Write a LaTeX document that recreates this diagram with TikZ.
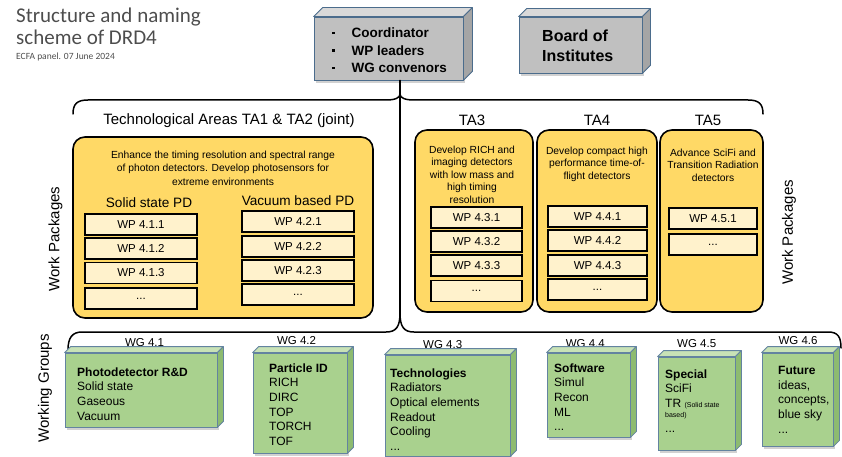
\documentclass[tikz,border=0pt]{standalone}
\usepackage{fontspec}
\setmainfont{Liberation Sans}
\newfontfamily\calib{Carlito}
\usetikzlibrary{calc,shadows}
\definecolor{ybox}{HTML}{FFD966}
\definecolor{wpfill}{HTML}{FFF2CC}
\definecolor{gfront}{HTML}{A9D18E}
\definecolor{gtop}{HTML}{C8E2B6}
\definecolor{gside}{HTML}{8DBB70}
\definecolor{gborder}{HTML}{6383A0}
\definecolor{sfront}{HTML}{C0C0C0}
\definecolor{stop}{HTML}{D9D9D9}
\definecolor{sside}{HTML}{A5A5A5}
\definecolor{sborder}{HTML}{4B6C8C}
\definecolor{titlegray}{HTML}{4D4D4D}
\newcommand\fs[2]{\fontsize{#1}{#2}\selectfont}
\newcommand\boxthree[5]{%
  \filldraw[fill=#3,draw=#5,line width=0.8pt,line join=round] (#1.north west) -- ++(#2,-#2) -- ($(#1.north east)+(#2,-#2)$) -- (#1.north east) -- cycle;
  \filldraw[fill=#4,draw=#5,line width=0.8pt,line join=round] (#1.north east) -- ++(#2,-#2) -- ($(#1.south east)+(#2,-#2)$) -- (#1.south east) -- cycle;
}
\begin{document}
\begin{tikzpicture}[x=1pt,y=-1pt,
  tabox/.style={draw=black, line width=1.6pt, fill=ybox, rounded corners=12pt, inner sep=0pt},
  wpbox/.style={draw=black, line width=1.6pt, fill=wpfill, minimum height=21pt, inner sep=0pt, font=\fs{11.5}{14}},
  gbox/.style={draw=gborder, line width=0.8pt, fill=gfront, inner sep=0pt, drop shadow={shadow xshift=2pt, shadow yshift=-3pt, opacity=0.18, fill=black}},
  sbox/.style={draw=sborder, line width=0.8pt, fill=sfront, inner sep=0pt, drop shadow={shadow xshift=2pt, shadow yshift=-3pt, opacity=0.18, fill=black}},
  wgtext/.style={anchor=north west, align=left, inner sep=0pt, font=\fs{12}{14.6}},
  wglabel/.style={font=\fs{11.5}{14}, inner sep=0pt},
  brace/.style={line width=1.5pt, line cap=round, line join=round},
  desc/.style={align=center, inner sep=0pt, font=\fs{10.3}{12.5}},
  tatitle/.style={font=\fs{15}{18}, inner sep=0pt},
  vlabel/.style={rotate=90, font=\fs{15}{18}, inner sep=0pt},
  ttl/.style={anchor=base west, inner sep=0pt, text=titlegray}
]
\useasboundingbox (0,0) rectangle (842,457);

% title
\node[ttl, font=\calib\fs{21}{25}] (t1) at (16,23) {Structure and naming};
\node[ttl, font=\calib\fs{21}{25}] (t2) at (16,45) {scheme of DRD4};
\node[ttl, font=\calib\fs{9.5}{11}] (t3) at (16,59.5) {ECFA panel. 07 June 2024};

% top gray boxes
\node[sbox, minimum width=149pt, minimum height=63pt] (coord) at (388.5,48.5) {};
\boxthree{coord}{9}{stop}{sside}{sborder}
\node[anchor=west, inner sep=0pt, font=\fs{13.5}{17.5}\bfseries] (coordtxt) at (332,51.7)
  {\begin{tabular}{@{}l@{\hspace{17pt}}l@{}}\rule[3.5pt]{2.5pt}{2.5pt} & Coordinator\\ \rule[3.5pt]{2.5pt}{2.5pt} & WP leaders\\ \rule[3.5pt]{2.5pt}{2.5pt} & WG convenors\end{tabular}};
\node[sbox, minimum width=123pt, minimum height=56pt] (board) at (580.5,45) {};
\boxthree{board}{8}{stop}{sside}{sborder}
\node[anchor=west, align=left, inner sep=0pt, font=\fs{16}{20}\bfseries] (boardtxt) at (542,45.8) {Board of\\Institutes};

% braces
\coordinate (tipT) at (400,94);
\coordinate (tipB) at (400,313);
\draw[brace] (73,114) .. controls (73,104) and (77,100) .. (88,100) -- (386,100) .. controls (395,100) and (400,98) .. (tipT) .. controls (400,98) and (405,100) .. (414,100) -- (748,100) .. controls (759,100) and (763,104) .. (763,114);
\draw[brace] (coord.south -| tipT) -- (tipB);
\draw[brace] (68,350) .. controls (68,338) and (72,332) .. (82,332) -- (386,332) .. controls (396,332) and (400,327) .. (tipB) .. controls (400,327) and (404,332) .. (414,332) -- (828,332) .. controls (838,332) and (841,337) .. (841,348);

% TA titles
\node[tatitle] (ta12t) at (229,121) {Technological Areas TA1 \& TA2 (joint)};
\node[tatitle] (ta3t) at (472,120) {TA3};
\node[tatitle] (ta4t) at (597,120) {TA4};
\node[tatitle] (ta5t) at (708,120) {TA5};

% TA boxes
\node[tabox, minimum width=300pt, minimum height=181pt] (ta12) at (223,227.5) {};
\node[tabox, minimum width=118pt, minimum height=182pt] (ta3) at (474,221) {};
\node[tabox, minimum width=120pt, minimum height=182pt] (ta4) at (597,221) {};
\node[tabox, minimum width=103pt, minimum height=182pt] (ta5) at (711.5,221) {};

% descriptions
\node[desc, font=\fs{10.3}{13.4}] (d12) at (223,168) {Enhance the timing resolution and spectral range\\of photon detectors. Develop photosensors for\\extreme environments};
\node[desc] (d3) at (472,174.5) {Develop RICH and\\imaging detectors\\with low mass and\\high timing\\resolution};
\node[desc] (d4) at (597,164) {Develop compact high\\performance time-of-\\flight detectors};
\node[desc] (d5) at (713,165) {Advance SciFi and\\Transition Radiation\\detectors};
\node[inner sep=0pt, font=\fs{13.6}{16}] (solid) at (149,203) {Solid state PD};
\node[inner sep=0pt, font=\fs{13.6}{16}] (vac) at (298,201) {Vacuum based PD};

% WP boxes
\node[wpbox, minimum width=112pt] (wp411) at (141,224.5) {WP 4.1.1};
\node[wpbox, minimum width=112pt] (wp412) at (141,248.5) {WP 4.1.2};
\node[wpbox, minimum width=112pt] (wp413) at (141,273) {WP 4.1.3};
\node[wpbox, minimum width=112pt] (wp41x) at (141,298.5) {...};
\node[wpbox, minimum width=112pt] (wp421) at (298,221.5) {WP 4.2.1};
\node[wpbox, minimum width=112pt] (wp422) at (298,246.5) {WP 4.2.2};
\node[wpbox, minimum width=112pt] (wp423) at (298,270.5) {WP 4.2.3};
\node[wpbox, minimum width=112pt] (wp42x) at (298,294.5) {...};
\node[wpbox, minimum width=91pt] (wp431) at (476.5,217.5) {WP 4.3.1};
\node[wpbox, minimum width=91pt] (wp432) at (476.5,241.5) {WP 4.3.2};
\node[wpbox, minimum width=91pt] (wp433) at (476.5,265.5) {WP 4.3.3};
\node[wpbox, minimum width=91pt] (wp43x) at (476.5,291) {...};
\node[wpbox, minimum width=99pt] (wp441) at (597.5,216.5) {WP 4.4.1};
\node[wpbox, minimum width=99pt] (wp442) at (597.5,240.5) {WP 4.4.2};
\node[wpbox, minimum width=99pt] (wp443) at (597.5,265.5) {WP 4.4.3};
\node[wpbox, minimum width=99pt] (wp44x) at (597.5,289.5) {...};
\node[wpbox, minimum width=88pt] (wp451) at (713,218.5) {WP 4.5.1};
\node[wpbox, minimum width=88pt] (wp45x) at (713,244.5) {...};

% side labels
\node[vlabel] (wpl) at (55.5,239) {Work Packages};
\node[vlabel] (wpr) at (789,232.5) {Work Packages};
\node[vlabel] (wgl) at (45,388.5) {Working Groups};

% WG labels
\node[wglabel] (l41) at (144.5,342.7) {WG 4.1};
\node[wglabel] (l42) at (296.5,340.7) {WG 4.2};
\node[wglabel] (l43) at (442.7,345) {WG 4.3};
\node[wglabel] (l44) at (585.3,343.7) {WG 4.4};
\node[wglabel] (l45) at (696.7,343.3) {WG 4.5};
\node[wglabel] (l46) at (798,341) {WG 4.6};

% WG boxes
\node[gbox, minimum width=152pt, minimum height=74pt] (wg1) at (141,390) {};
\boxthree{wg1}{6}{gtop}{gside}{gborder}
\node[gbox, minimum width=94pt, minimum height=100pt] (wg2) at (300,403) {};
\boxthree{wg2}{6}{gtop}{gside}{gborder}
\node[gbox, minimum width=125pt, minimum height=101pt] (wg3) at (447.5,405.5) {};
\boxthree{wg3}{6}{gtop}{gside}{gborder}
\node[gbox, minimum width=83pt, minimum height=84pt] (wg4) at (588.5,395) {};
\boxthree{wg4}{6}{gtop}{gside}{gborder}
\node[gbox, minimum width=77pt, minimum height=93pt] (wg5) at (696.5,403.5) {};
\boxthree{wg5}{6}{gtop}{gside}{gborder}
\node[gbox, minimum width=71pt, minimum height=93pt] (wg6) at (797.5,399.5) {};
\boxthree{wg6}{6}{gtop}{gside}{gborder}

% WG texts
\node[wgtext] (w1) at (77,367.3) {\textbf{Photodetector R\&D}\\Solid state\\Gaseous\\Vacuum};
\node[wgtext] (w2) at (269,363.3) {\textbf{Particle ID}\\RICH\\DIRC\\TOP\\TORCH\\TOF};
\node[wgtext] (w3) at (390,368.3) {\textbf{Technologies}\\Radiators\\Optical elements\\Readout\\Cooling\\...};
\node[wgtext] (w4) at (554,363.3) {\textbf{Software}\\Simul\\Recon\\ML\\...};
\node[wgtext] (w5) at (665,369.3) {\textbf{Special}\\SciFi\\TR {\fs{7}{8}(Solid state}\\[-4.6pt]{\fs{7}{8}based)}\\...};
\node[wgtext] (w6) at (778,366.3) {\textbf{Future}\\ideas,\\concepts,\\blue sky\\...};
\end{tikzpicture}
\end{document}
